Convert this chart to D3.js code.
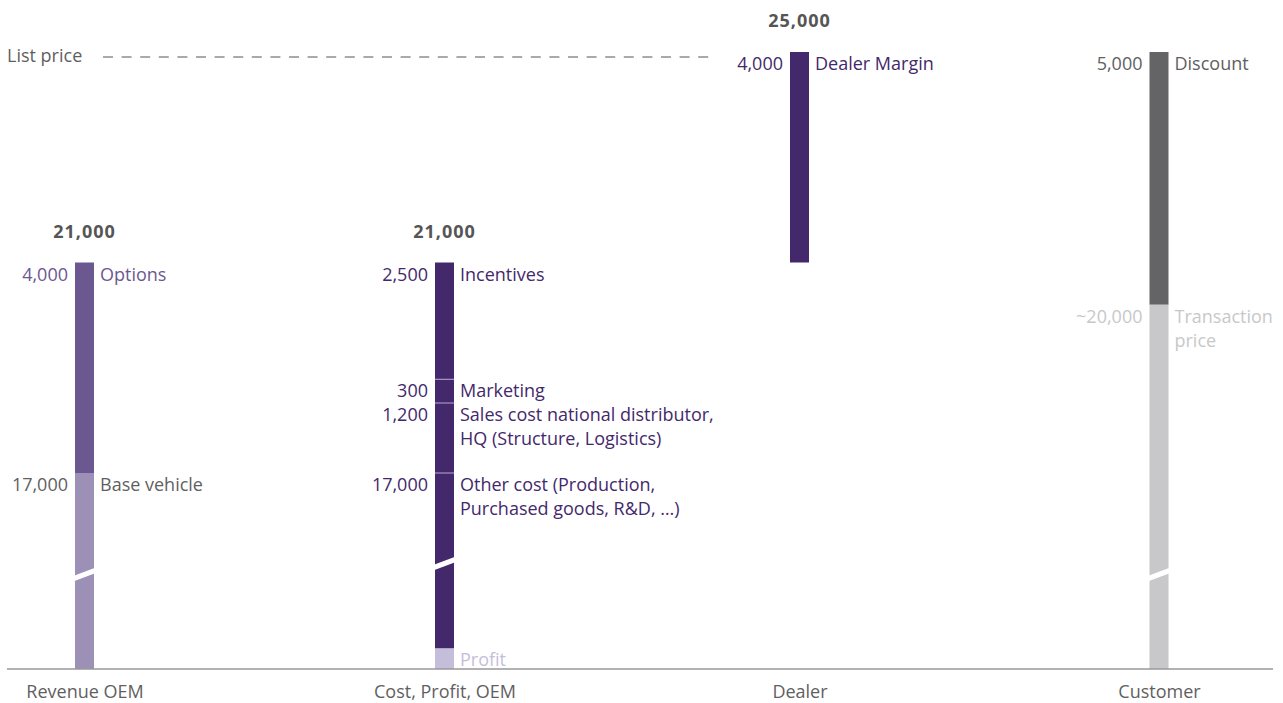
<!DOCTYPE html>
<html><head><meta charset="utf-8">
<script src="https://cdn.jsdelivr.net/npm/d3@7"></script>
<style>
html,body{margin:0;padding:0;background:#fff;}
svg{display:block;font-family:"Open Sans",Lato,sans-serif;}
</style></head><body>
<svg id="chart" width="1283" height="703"></svg>
<script>
// ---- data ----
const categories = ["Revenue OEM", "Cost, Profit, OEM", "Dealer", "Customer"];
const totals = ["21,000", "21,000", "25,000", ""];
const totalValues = [21000, 21000, 25000, 25000];
const listPrice = 25000;

// Revenue OEM (bottom to top)
const revenueNames = ["Base vehicle", "Options"];
const revenueValues = [17000, 4000];
const revenueValueLabels = ["17,000", "4,000"];

// Cost, Profit, OEM (bottom to top), values as drawn
const costNames = ["Profit", "Other cost (Production,|Purchased goods, R&D, …)", "Sales cost national distributor,|HQ (Structure, Logistics)", "Marketing", "Incentives"];
const costValues = [1800, 15200, 1330, 450, 2220];
const costValueLabels = ["", "17,000", "1,200", "300", "2,500"];

// Dealer
const dealerBase = 21000;
const dealerNames = ["Dealer Margin"];
const dealerValues = [4000];
const dealerValueLabels = ["4,000"];

// Customer (bottom to top)
const customerNames = ["Transaction|price", "Discount"];
const customerValues = [20200, 4800];
const customerValueLabels = ["~20,000", "5,000"];

// scale-break positions (value in the compressed lower part)
const breakValues = [8200, 9150, null, 8200];

// ---- styles ----
const colors = {
  options: "#6b5890", base: "#9c90b6", cost: "#43296b", profit: "#c5bedb",
  discount: "#646466", transaction: "#c8c8ca"
};
const textColors = {
  options: "#6b5890", base: "#5f5f5f", cost: "#43296b", profit: "#c5bedb",
  discount: "#606060", transaction: "#c8c8ca"
};

const svg = d3.select("#chart");
const x = d3.scaleOrdinal().domain(categories).range([84.5, 444.5, 799.5, 1159]);
// broken scale: lower 0-17000 compressed, upper 17000-25000 linear
const y = d3.scaleLinear().domain([0, 17000, 25000]).range([669, 473, 52]);
const barW = 19;

function stack(base, vals) {
  let acc = base; return vals.map(v => { const s = acc; acc += v; return [s, acc]; });
}

const segs = [];
function addSegs(ci, base, names, vals, vlabels, fills, tcols, seps) {
  const st = stack(base, vals);
  names.forEach((n, i) => segs.push({ci, name: n, y0: st[i][0], y1: st[i][1], vlabel: vlabels[i], fill: fills[i], tcol: tcols[i], sep: seps ? seps[i] : false}));
}
addSegs(0, 0, revenueNames, revenueValues, revenueValueLabels,
  [colors.base, colors.options], [textColors.base, textColors.options]);
addSegs(1, 0, costNames, costValues, costValueLabels,
  [colors.profit, colors.cost, colors.cost, colors.cost, colors.cost],
  [textColors.profit, textColors.cost, textColors.cost, textColors.cost, textColors.cost],
  [false, false, true, true, true]);
addSegs(2, dealerBase, dealerNames, dealerValues, dealerValueLabels, [colors.cost], [textColors.cost]);
addSegs(3, 0, customerNames, customerValues, customerValueLabels,
  [colors.transaction, colors.discount], [textColors.transaction, textColors.discount]);

const bx = c => x(c) - barW / 2;

// bars
svg.append("g").selectAll("rect").data(segs).join("rect")
  .attr("x", d => bx(categories[d.ci]))
  .attr("y", d => y(d.y1))
  .attr("width", barW)
  .attr("height", d => y(d.y0) - y(d.y1))
  .attr("fill", d => d.fill);

// separators
svg.append("g").selectAll("line").data(segs.filter(d => d.sep)).join("line")
  .attr("x1", d => bx(categories[d.ci])).attr("x2", d => bx(categories[d.ci]) + barW)
  .attr("y1", d => y(d.y0)).attr("y2", d => y(d.y0))
  .attr("stroke", "#a497c0").attr("stroke-width", 1.2);

// breaks
svg.append("g").selectAll("path").data(breakValues.map((v, i) => ({v, i})).filter(d => d.v != null)).join("path")
  .attr("d", d => {
    const x0 = bx(categories[d.i]) - 0.5, x1 = x0 + barW + 1, yc = y(d.v);
    return `M${x0},${yc + 1}L${x1},${yc - 6.5}L${x1},${yc - 1}L${x0},${yc + 6.5}Z`;
  })
  .attr("fill", "#fff");

// segment value labels and names
const fs = 18, lh = 24;
const lab = svg.append("g").style("font-size", fs + "px");
segs.forEach(d => {
  const c = categories[d.ci];
  const top = y(d.y1) + 18;
  if (d.vlabel) lab.append("text").attr("x", bx(c) - 7).attr("y", top).attr("text-anchor", "end")
    .attr("fill", d.tcol).text(d.vlabel);
  const t = lab.append("text").attr("x", bx(c) + barW + 6).attr("y", top).attr("fill", d.tcol);
  d.name.split("|").forEach((ln, k) => t.append("tspan").attr("x", bx(c) + barW + 6).attr("dy", k ? lh : 0).text(ln));
});

// totals
svg.append("g").selectAll("text").data(categories.map((c, i) => ({c, t: totals[i], v: totalValues[i]})).filter(d => d.t))
  .join("text")
  .attr("x", d => x(d.c)).attr("y", d => y(d.v) - 25)
  .attr("text-anchor", "middle").attr("font-weight", "bold").attr("font-size", "18px")
  .attr("letter-spacing", "1px")
  .attr("fill", "#555").text(d => d.t);

// list price line
svg.append("text").attr("x", 7).attr("y", y(listPrice) + 10).attr("font-size", "18px").attr("fill", "#5f5f5f").text("List price");
svg.append("line").attr("x1", 103).attr("x2", 712).attr("y1", y(listPrice) + 5).attr("y2", y(listPrice) + 5)
  .attr("stroke", "#555").attr("stroke-width", 1).attr("stroke-dasharray", "10,8.6");

// baseline + category axis
svg.append("line").attr("x1", 7).attr("x2", 1273).attr("y1", y(0)).attr("y2", y(0)).attr("stroke", "#999").attr("stroke-width", 1.5);
const axis = d3.axisBottom(x).tickSize(0).tickPadding(16);
const ag = svg.append("g").attr("transform", `translate(0,${y(0)})`).call(axis);
ag.select(".domain").remove();
ag.selectAll("text").attr("font-size", "18px").attr("fill", "#5f5f5f").attr("font-family", "'Open Sans',Lato,sans-serif");
</script>
</body></html>
